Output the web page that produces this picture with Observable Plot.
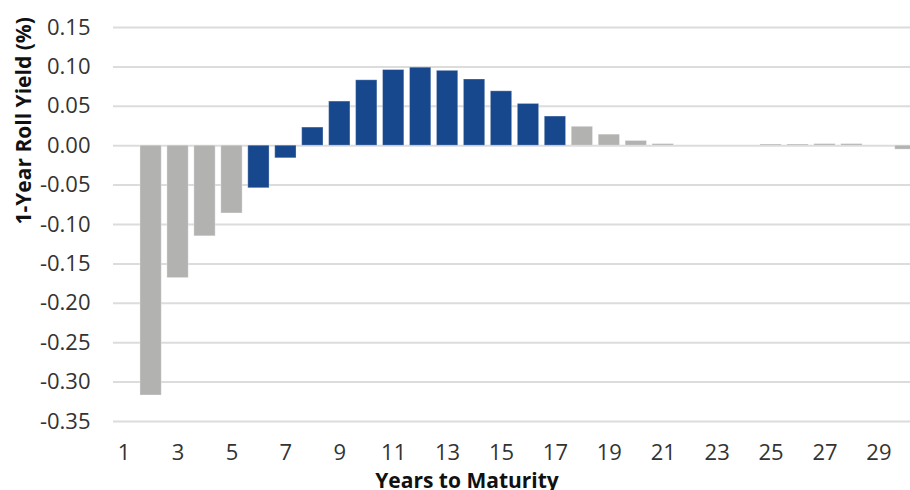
<!DOCTYPE html>
<html>
<head>
<meta charset="utf-8">
<script src="https://cdn.jsdelivr.net/npm/d3@7"></script>
<script src="https://cdn.jsdelivr.net/npm/@observablehq/plot@0.6"></script>
<style>
  html, body { margin: 0; padding: 0; background: #fff; overflow: hidden; }
  #chart { width: 910px; height: 490px; position: relative; }
  svg { overflow: hidden; }
</style>
</head>
<body>
<div id="chart"></div>
<script>
const years = d3.range(1, 31);
const maturities = [2,3,4,5,6,7,8,9,10,11,12,13,14,15,16,17,18,19,20,21,22,23,24,25,26,27,28,29,30];
const rollYield = [-0.317,-0.168,-0.115,-0.086,-0.054,-0.016,0.023,0.056,0.083,0.096,0.099,0.095,0.084,0.069,0.053,0.037,0.024,0.014,0.006,0.002,0,0,0,0.0015,0.0015,0.002,0.002,0,-0.005];
const highlightedYears = [6,7,8,9,10,11,12,13,14,15,16,17];
const yTicks = [0.15,0.10,0.05,0,-0.05,-0.10,-0.15,-0.20,-0.25,-0.30,-0.35];
const xTicks = [1,3,5,7,9,11,13,15,17,19,21,23,25,27,29];
const yTitle = "1-Year Roll Yield (%)";
const xTitle = "Years to Maturity";

const data = maturities.map((m, i) => ({
  year: m,
  value: rollYield[i],
  group: highlightedYears.includes(m) ? "highlight" : "other"
}));

const chart = Plot.plot({
  width: 910,
  height: 490,
  marginTop: 27,
  marginBottom: 69,
  marginLeft: 113,
  marginRight: 0,
  style: { fontFamily: "'Open Sans', sans-serif", fontSize: "22px", color: "#333", background: "#fff" },
  x: { type: "band", domain: years, range: [113, 916], paddingInner: 0.21, paddingOuter: 0, round: false, label: null },
  y: { domain: [-0.35, 0.15], label: null },
  color: { domain: ["highlight", "other"], range: ["#17478c", "#b2b3b1"] },
  marks: [
    Plot.ruleY(yTicks, { stroke: "#dcdcdc", strokeWidth: 2 }),
    Plot.barY(data, { x: "year", y: "value", fill: "group", stroke: "#ffffff", strokeOpacity: 0.3, strokeWidth: 1 }),
    Plot.axisY(yTicks, { tickSize: 0, tickPadding: 23, tickFormat: d => d.toFixed(2), fontSize: 22, fill: "#333", label: null }),
    Plot.axisX(xTicks, { tickSize: 0, tickPadding: 23, fontSize: 22, fill: "#333", label: null }),
    Plot.text([yTitle], { frameAnchor: "left", dx: -89, rotate: -90, lineAnchor: "middle", fontWeight: "bold", fontSize: 21, fill: "#111" }),
    Plot.text([xTitle], { frameAnchor: "bottom-left", dx: 353.5, dy: 59.3, lineAnchor: "middle", textAnchor: "middle", fontWeight: "bold", fontSize: 21, fill: "#111" })
  ]
});
document.getElementById("chart").appendChild(chart);
</script>
</body>
</html>
